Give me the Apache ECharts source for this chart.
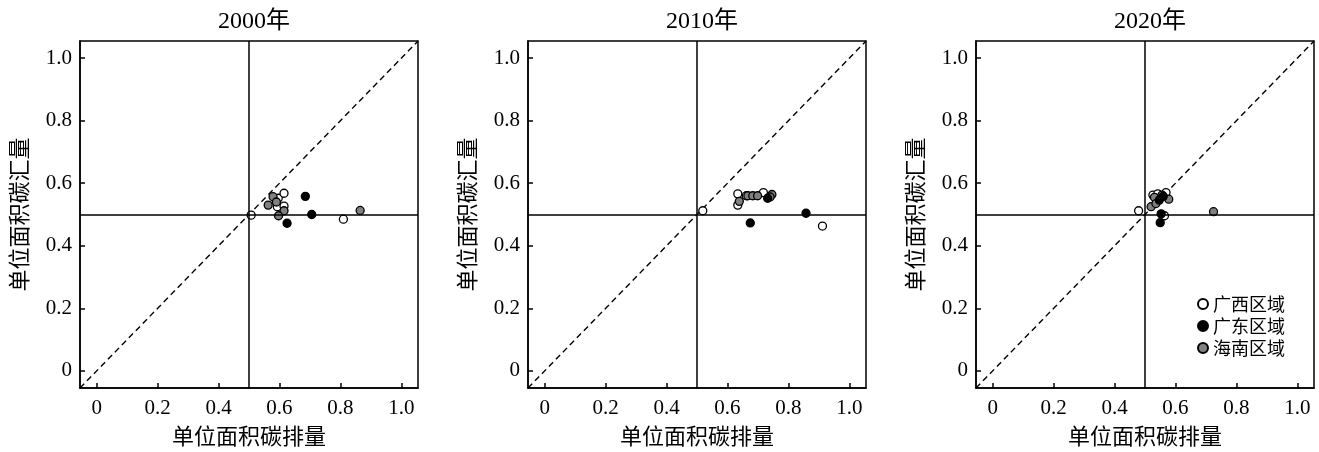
<!DOCTYPE html>
<html><head><meta charset="utf-8">
<script src="https://cdn.jsdelivr.net/npm/echarts@6/dist/echarts.min.js"></script>
<style>html,body{margin:0;padding:0;background:#fff}#c{width:1319px;height:452px}</style>
</head><body><div id="c"></div>
<script>
const years = ['2000年','2010年','2020年'];
const regions = ['广西区域','广东区域','海南区域'];
const tickVals = [0, 0.2, 0.4, 0.6, 0.8, 1.0];
const xName = '单位面积碳排量';
const yName = '单位面积碳汇量';
// [单位面积碳排量, 单位面积碳汇量]
const gx2000 = [[0.507,0.498],[0.596,0.552],[0.615,0.568],[0.593,0.525],[0.615,0.527],[0.81,0.485]];
const gd2000 = [[0.685,0.558],[0.706,0.500],[0.625,0.472]];
const hn2000 = [[0.563,0.530],[0.579,0.557],[0.615,0.512],[0.597,0.496],[0.865,0.513],[0.590,0.540]];
const gx2010 = [[0.519,0.512],[0.634,0.566],[0.634,0.530],[0.718,0.570],[0.912,0.463],[0.662,0.560]];
const gd2010 = [[0.732,0.552],[0.858,0.504],[0.675,0.473]];
const hn2010 = [[0.639,0.542],[0.667,0.560],[0.683,0.560],[0.699,0.560],[0.746,0.564],[0.740,0.556]];
const gx2020 = [[0.479,0.512],[0.526,0.562],[0.542,0.566],[0.569,0.570],[0.564,0.496],[0.540,0.550]];
const gd2020 = [[0.553,0.502],[0.550,0.474],[0.547,0.546],[0.560,0.558]];
const hn2020 = [[0.725,0.509],[0.531,0.555],[0.556,0.562],[0.578,0.549],[0.520,0.525],[0.536,0.535]];
const panels = [[gx2000,gd2000,hn2000],[gx2010,gd2010,hn2010],[gx2020,gd2020,hn2020]];
const fills = ['#ffffff','#000000','#808080'];

const AMIN = -0.055, AMAX = 1.055;
const lefts = [80, 528, 976];
const GW = 338, GH = 348, GT = 41;
const serif = 'Liberation Serif';
const cjk = 'Noto Sans CJK SC';

const grid = [], xAxis = [], yAxis = [], series = [], title = [];
lefts.forEach((l, i) => {
  grid.push({left: l, top: GT, width: GW, height: GH, show: true, borderColor: '#000', borderWidth: 1.5, backgroundColor: 'transparent'});
  title.push({text: years[i], left: l + GW/2, top: 5, textAlign: 'center',
    textStyle: {fontFamily: serif + ',' + cjk, fontSize: 24, fontWeight: 'normal', color: '#000'}});
  const axCommon = {
    type: 'value', min: AMIN, max: AMAX, gridIndex: i,
    axisLine: {show: true, onZero: false, lineStyle: {color: '#000', width: 1.5}},
    axisTick: {show: true, inside: true, length: 5, customValues: tickVals, lineStyle: {color: '#000', width: 1.5}},
    axisLabel: {customValues: tickVals, color: '#000', fontFamily: serif, fontSize: 21,
      formatter: v => (Math.abs(v) < 1e-9 ? '0' : v.toFixed(1))},
    splitLine: {show: false},
    nameLocation: 'middle',
    nameTextStyle: {fontFamily: cjk, fontSize: 22, color: '#000'}
  };
  xAxis.push(Object.assign({}, axCommon, {name: xName, nameGap: 37,
    axisLabel: Object.assign({}, axCommon.axisLabel, {margin: 10})}));
  yAxis.push(Object.assign({}, axCommon, {name: yName, nameGap: 50,
    axisLabel: Object.assign({}, axCommon.axisLabel, {margin: 8})}));
  // diagonal reference y = x
  series.push({type: 'line', xAxisIndex: i, yAxisIndex: i, data: [[AMIN, AMIN], [AMAX, AMAX]],
    symbol: 'none', silent: true, lineStyle: {color: '#000', width: 1.4, type: [6, 4]}, z: 1,
    markLine: {silent: true, symbol: 'none', label: {show: false},
      lineStyle: {color: '#000', width: 1.5, type: 'solid'},
      data: [{xAxis: 0.5}, {yAxis: 0.5}]}});
  [0, 2, 1].forEach(k => {
    series.push({type: 'scatter', name: regions[k], xAxisIndex: i, yAxisIndex: i,
      data: panels[i][k], symbol: 'circle', symbolSize: 8,
      itemStyle: {color: fills[k], borderColor: '#000', borderWidth: 1.3, opacity: 1}, z: 3});
  });
});

const chart = echarts.init(document.getElementById('c'), null, {renderer: 'canvas'});
chart.setOption({
  animation: false,
  backgroundColor: '#fff',
  title, grid, xAxis, yAxis, series,
  legend: {data: regions, orient: 'vertical', left: 1192, top: 290, itemWidth: 10, itemHeight: 10,
    itemGap: 4, icon: 'circle',
    textStyle: {fontFamily: cjk, fontSize: 18, color: '#000'}}
});
</script></body></html>
